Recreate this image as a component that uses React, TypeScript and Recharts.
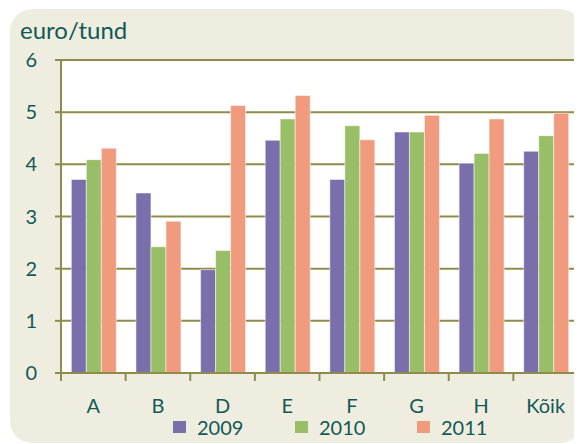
import React from 'react';
import { BarChart, Bar, XAxis, YAxis, CartesianGrid, Legend } from 'recharts';

const categories = ['A', 'B', 'D', 'E', 'F', 'G', 'H', 'Kõik'];
const values2009 = [3.71, 3.45, 1.98, 4.46, 3.71, 4.62, 4.02, 4.25];
const values2010 = [4.09, 2.42, 2.35, 4.87, 4.74, 4.62, 4.21, 4.55];
const values2011 = [4.31, 2.91, 5.13, 5.32, 4.47, 4.94, 4.87, 4.98];
const yTicks = [0, 1, 2, 3, 4, 5, 6];
const years = ['2009', '2010', '2011'];

const OLIVE = '#8e8c4c';
const TEAL = '#0f5a56';
const COLORS = ['#7b6fab', '#98bf67', '#f19b7e'];
const FONT = 'Lato, "Open Sans", sans-serif';

const data = categories.map((name, i) => ({
  name,
  y2009: values2009[i],
  y2010: values2010[i],
  y2011: values2011[i],
}));

// category label in the middle, tick marks on the group boundaries
const CategoryTick = (props: any) => {
  const { x, y, payload, index } = props;
  const off = payload.offset ?? (props.width ? props.width / categories.length / 2 : 0);
  const last = index === categories.length - 1;
  return (
    <g>
      <line x1={x - off} y1={y} x2={x - off} y2={y + 8} stroke={OLIVE} strokeWidth={2} />
      {last && <line x1={x + off} y1={y} x2={x + off} y2={y + 8} stroke={OLIVE} strokeWidth={2} />}
      <text x={x} y={y + 26} dy="0.71em" textAnchor="middle" fill={TEAL} fontSize={20} fontFamily={FONT}>
        {payload.value}
      </text>
    </g>
  );
};

const renderLegend = () => (
  <div style={{ height: 36, display: 'flex', alignItems: 'center', paddingLeft: 165, paddingTop: 2, boxSizing: 'border-box', fontFamily: FONT }}>
    {years.map((yr, i) => (
      <div key={yr} style={{ width: 122, display: 'flex', alignItems: 'center' }}>
        <span style={{ width: 13, height: 12, background: COLORS[i], display: 'inline-block', marginRight: 11 }} />
        <span style={{ color: TEAL, fontSize: 20, lineHeight: '16px' }}>{yr}</span>
      </div>
    ))}
  </div>
);

export default function App() {
  return (
    <div style={{ position: 'relative', width: 574, height: 436, fontFamily: FONT }}>
      <div
        style={{
          position: 'absolute',
          left: 2,
          top: 1,
          right: 0,
          bottom: 1,
          background: '#efede0',
          borderRadius: 22,
        }}
      />
      <div style={{ position: 'absolute', left: 12, top: 10, fontSize: 24, lineHeight: 1, color: TEAL }}>
        euro/tund
      </div>
      <div style={{ position: 'absolute', left: 0, top: 0 }}>
        <BarChart
          width={574}
          height={436}
          data={data}
          margin={{ top: 52, right: 4, left: 0, bottom: 0 }}
          barCategoryGap="16%"
          barGap={0}
        >
          <CartesianGrid horizontal vertical={false} fill="#ffffff" stroke={OLIVE} strokeWidth={2} />
          <XAxis
            dataKey="name"
            height={35}
            interval={0}
            tickLine={false}
            tickSize={0}
            tickMargin={0}
            axisLine={{ stroke: OLIVE, strokeWidth: 2 }}
            tick={<CategoryTick />}
          />
          <YAxis
            width={53}
            domain={[0, 6]}
            ticks={yTicks}
            interval={0}
            tickSize={6}
            tickMargin={18}
            axisLine={{ stroke: OLIVE, strokeWidth: 2 }}
            tickLine={{ stroke: OLIVE, strokeWidth: 2 }}
            tick={{ fill: TEAL, fontSize: 20, fontFamily: FONT }}
          />
          <YAxis
            yAxisId="right"
            orientation="right"
            width={0}
            domain={[0, 6]}
            tick={false}
            tickLine={false}
            axisLine={{ stroke: OLIVE, strokeWidth: 2 }}
          />
          <Legend verticalAlign="bottom" content={renderLegend} wrapperStyle={{ left: 0, width: 574 }} />
          <Bar dataKey="y2009" name="2009" fill={COLORS[0]} stroke="#ffffff" strokeOpacity={0.5} isAnimationActive={false} />
          <Bar dataKey="y2010" name="2010" fill={COLORS[1]} stroke="#ffffff" strokeOpacity={0.5} isAnimationActive={false} />
          <Bar dataKey="y2011" name="2011" fill={COLORS[2]} stroke="#ffffff" strokeOpacity={0.5} isAnimationActive={false} />
        </BarChart>
      </div>
    </div>
  );
}
